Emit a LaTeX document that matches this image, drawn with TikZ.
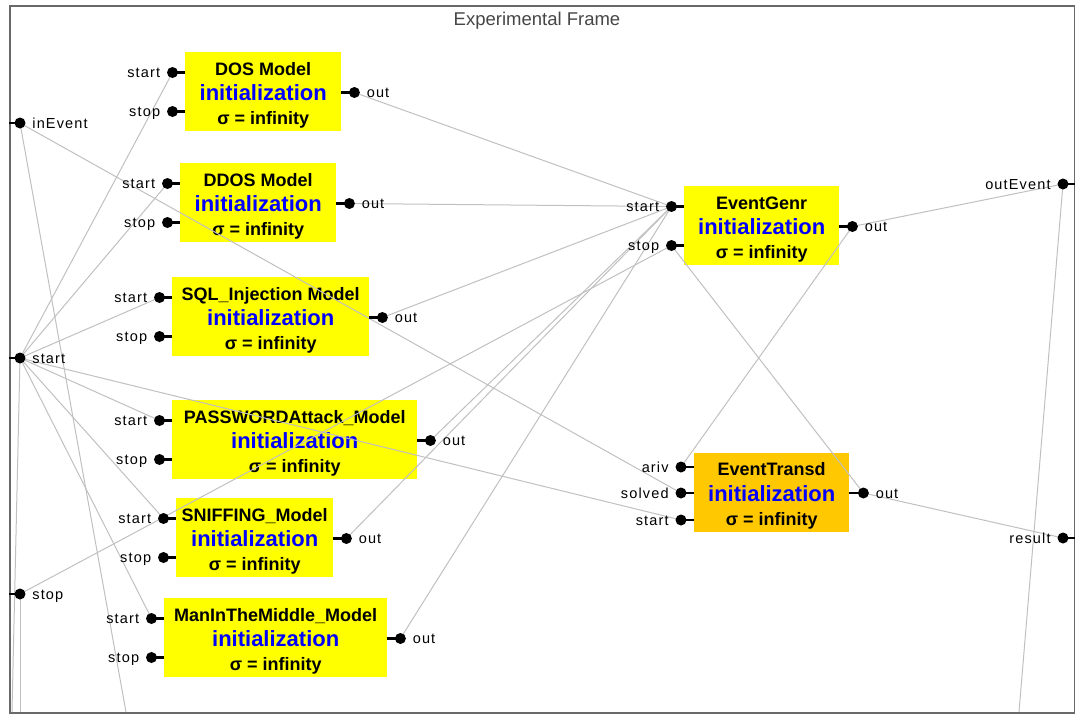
\documentclass[tikz,border=0pt]{standalone}
\usepackage{fontspec}
\setmainfont{Liberation Sans}
\newfontfamily\portfont[LetterSpace=8]{Liberation Sans}
\usetikzlibrary{calc}

\pgfdeclarelayer{boxes}
\pgfdeclarelayer{wires}
\pgfsetlayers{boxes,wires,main}

\definecolor{modelyellow}{RGB}{255,255,0}
\definecolor{transdorange}{RGB}{255,200,0}
\definecolor{wiregray}{RGB}{192,192,192}
\definecolor{framegray}{RGB}{105,105,105}
\definecolor{titlegray}{RGB}{70,70,70}
\definecolor{stateblue}{RGB}{0,0,255}

\tikzset{
  modelbox/.style={rectangle, draw=none, minimum height=79pt, inner sep=0pt, anchor=north west},
  titletext/.style={font=\fontsize{18}{20}\selectfont\bfseries, inner sep=0pt, anchor=base},
  inittext/.style={font=\fontsize{22}{24}\selectfont\bfseries, text=stateblue, inner sep=0pt, anchor=base},
  sigmatext/.style={titletext},
  port/.style={circle, fill=black, minimum size=11pt, inner sep=0pt},
  portlabel/.style={font=\portfont\fontsize{14.5}{16}\selectfont, inner sep=0pt, text height=10pt, text depth=0pt},
  stub/.style={draw=black, line width=2.2pt},
  wire/.style={draw=wiregray, line width=1pt},
}

% atomic model with inputs start/stop and output out
\newcommand\devsmodel[6]{% #1 name, #2 left, #3 top, #4 width, #5 fill, #6 title
  \begin{pgfonlayer}{boxes}
    \node[modelbox, fill=#5, minimum width=#4pt] (#1) at (#2,#3) {};
    \node[titletext] (#1-title) at ($(#1.north)+(0,23)$) {#6};
    \node[inittext] (#1-init) at ($(#1.north)+(0,48)$) {initialization};
    \node[sigmatext] (#1-sigma) at ($(#1.north)+(0,72)$) {σ = infinity};
  \end{pgfonlayer}
  \node[port, label={[portlabel]left:start}] (#1-start) at ($(#1.north west)+(-12.5,20.5)$) {};
  \node[port, label={[portlabel]left:stop}] (#1-stop) at ($(#1.north west)+(-12.5,59.5)$) {};
  \node[port, label={[portlabel]right:out}] (#1-out) at ($(#1.north east)+(13,40.5)$) {};
  \draw[stub] (#1-start.center) -- (#1-start.center -| #1.west);
  \draw[stub] (#1-stop.center) -- (#1-stop.center -| #1.west);
  \draw[stub] (#1-out.center) -- (#1-out.center -| #1.east);
}

\begin{document}
\begin{tikzpicture}[x=1pt, y=-1pt, label distance=6.5pt]
\useasboundingbox (0,0) rectangle (1075,715);

% coupled model frame
\begin{pgfonlayer}{boxes}
  \node[rectangle, draw=framegray, line width=1.6pt, minimum width=1065pt, minimum height=707pt,
        inner sep=0pt, anchor=north west] (frame) at (9,5) {};
\end{pgfonlayer}
\node[font=\fontsize{18.5}{20}\selectfont, text=titlegray, anchor=base, inner sep=0pt] (efTitle) at (537,25) {Experimental Frame};

% attack generators and the experimental frame components
\devsmodel{dos}{185}{52}{156}{modelyellow}{DOS Model}
\devsmodel{ddos}{180}{163}{156}{modelyellow}{DDOS Model}
\devsmodel{sql}{172}{277}{197}{modelyellow}{SQL\_Injection Model}
\devsmodel{pwd}{172}{400}{245}{modelyellow}{PASSWORDAttack\_Model}
\devsmodel{sniff}{176}{498}{157}{modelyellow}{SNIFFING\_Model}
\devsmodel{mitm}{164}{598}{223}{modelyellow}{ManInTheMiddle\_Model}
\devsmodel{genr}{684}{186}{155}{modelyellow}{EventGenr}

% transducer
\begin{pgfonlayer}{boxes}
  \node[modelbox, fill=transdorange, minimum width=155pt] (transd) at (694,453) {};
  \node[titletext] (transd-title) at ($(transd.north)+(0,22)$) {EventTransd};
  \node[inittext] (transd-init) at ($(transd.north)+(0,48)$) {initialization};
  \node[sigmatext] (transd-sigma) at ($(transd.north)+(0,72)$) {σ = infinity};
\end{pgfonlayer}
\node[port, label={[portlabel]left:ariv}] (transd-ariv) at ($(transd.north west)+(-13,14)$) {};
\node[port, label={[portlabel]left:solved}] (transd-solved) at ($(transd.north west)+(-13,40)$) {};
\node[port, label={[portlabel]left:start}] (transd-start) at ($(transd.north west)+(-13,67)$) {};
\node[port, label={[portlabel]right:out}] (transd-out) at ($(transd.north east)+(14,40)$) {};
\draw[stub] (transd-ariv.center) -- (transd-ariv.center -| transd.west);
\draw[stub] (transd-solved.center) -- (transd-solved.center -| transd.west);
\draw[stub] (transd-start.center) -- (transd-start.center -| transd.west);
\draw[stub] (transd-out.center) -- (transd-out.center -| transd.east);

% ports of the coupled model
\node[port, label={[portlabel]right:inEvent}] (inEvent) at (20,123) {};
\node[port, label={[portlabel]right:start}] (efStart) at (20,358) {};
\node[port, label={[portlabel]right:stop}] (efStop) at (20,594) {};
\node[port, label={[portlabel]left:outEvent}] (outEvent) at (1063,184) {};
\node[port, label={[portlabel]left:result}] (result) at (1063,538) {};
\draw[stub] (inEvent.center) -- (inEvent.center -| frame.west);
\draw[stub] (efStart.center) -- (efStart.center -| frame.west);
\draw[stub] (efStop.center) -- (efStop.center -| frame.west);
\draw[stub] (outEvent.center) -- (outEvent.center -| frame.east);
\draw[stub] (result.center) -- (result.center -| frame.east);

% couplings leaving the frame
\coordinate (inEventExit) at (126,712);
\coordinate (startExit) at (12,712);
\coordinate (stopExit) at (20,712);
\coordinate (outEventExit) at (1019,712);

% couplings
\begin{pgfonlayer}{wires}
  \draw[wire] (inEvent.center) -- (transd-solved.center);
  \draw[wire] (inEvent.center) -- (inEventExit);
  \foreach \m in {dos,ddos,sql,pwd,sniff,mitm} {
    \draw[wire] (efStart.center) -- (\m-start.center);
    \draw[wire] (\m-out.center) -- (genr-start.center);
  }
  \draw[wire] (efStart.center) -- (transd-start.center);
  \draw[wire] (efStart.center) -- (startExit);
  \draw[wire] (efStop.center) -- (genr-stop.center);
  \draw[wire] (efStop.center) -- (stopExit);
  \draw[wire] (genr-out.center) -- (outEvent.center);
  \draw[wire] (genr-out.center) -- (transd-ariv.center);
  \draw[wire] (transd-out.center) -- (genr-stop.center);
  \draw[wire] (transd-out.center) -- (result.center);
  \draw[wire] (outEvent.center) -- (outEventExit);
\end{pgfonlayer}
\end{tikzpicture}
\end{document}
